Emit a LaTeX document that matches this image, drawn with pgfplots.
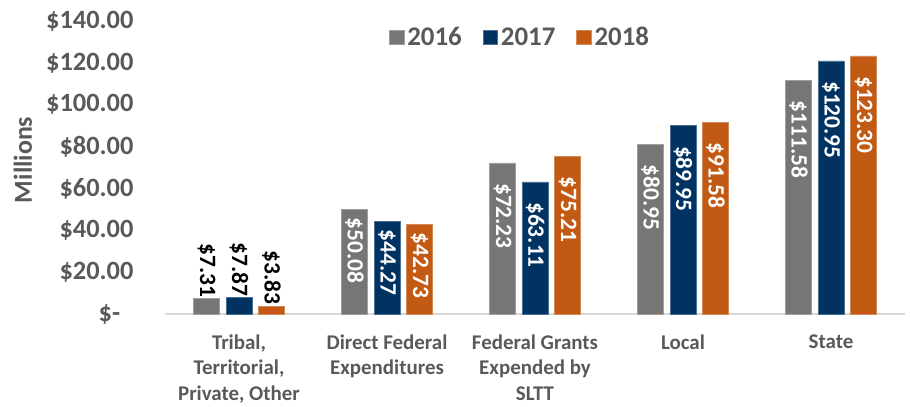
\documentclass[border=0pt]{standalone}
\usepackage{fontspec}
\setmainfont{Carlito}
\usepackage{pgfplots}
\pgfplotsset{compat=1.18}
\definecolor{cgray}{HTML}{767676}
\definecolor{cnavy}{HTML}{003262}
\definecolor{corange}{HTML}{C25A13}
\definecolor{tgray}{HTML}{595959}
\definecolor{agray}{HTML}{D9D9D9}
\begin{document}
\begin{tikzpicture}
\useasboundingbox (-165bp,-93bp) rectangle (745bp,314bp);
\begin{axis}[
  at={(0,0)}, anchor=south west,
  scale only axis, width=740bp, height=293bp,
  ybar, bar width=26bp,
  xmin=-0.5, xmax=4.5, ymin=0, ymax=140,
  clip=false,
  axis lines*=left,
  y axis line style={draw=none},
  x axis line style={draw=agray, line width=1.5bp},
  major tick length=0pt, tick style={draw=none},
  xtick={0,1,2,3,4},
  xticklabels={{Tribal,\\Territorial,\\Private, Other},{Direct Federal\\Expenditures},{Federal Grants\\Expended by\\SLTT},{Local},{State}},
  xticklabel style={font=\fontsize{21}{25.5}\selectfont\bfseries, text=tgray, align=center, anchor=north, yshift=-17bp},
  ytick={0,20,40,60,80,100,120,140},
  yticklabels={\$-\hphantom{0},\$20.00,\$40.00,\$60.00,\$80.00,\$100.00,\$120.00,\$140.00},
  yticklabel style={font=\fontsize{26.5}{30}\selectfont\bfseries, text=tgray, anchor=east, xshift=-28bp},
  ylabel={Millions},
  every axis y label/.style={at={(axis description cs:-0.192,0.526)}, rotate=90, anchor=center,
    font=\fontsize{26}{30}\selectfont\bfseries, text=tgray},
  legend columns=3,
  legend style={draw=none, fill=none, inner sep=0pt, at={(axis description cs:0.3027,0.945)}, anchor=west,
    font=\fontsize{27}{31}\selectfont\bfseries, text=tgray,
    nodes={inner xsep=3bp},
    /tikz/every odd column/.append style={column sep=0bp},
    /tikz/every even column/.append style={column sep=18bp}},
  legend image code/.code={\fill[#1] (0bp,-7.25bp) rectangle (14.5bp,7.25bp);},
  point meta=y,
  nodes near coords={\$\pgfmathprintnumber[fixed,fixed zerofill,precision=2,assume math mode=true]{\pgfplotspointmeta}},
  every node near coord/.append style={font=\fontsize{23.5}{28}\selectfont\bfseries, rotate=-90},
  inside/.style={every node near coord/.append style={text=white, anchor=west, inner xsep=20bp}},
  insidenear/.style={every node near coord/.append style={text=white, anchor=west, inner xsep=8bp}},
  outside/.style={every node near coord/.append style={text=black, anchor=east, inner xsep=1bp}},
  s16/.style={bar shift=-32.5bp, fill=cgray, draw=cgray!70!white, line width=0.6bp},
  s17/.style={bar shift=0bp, fill=cnavy, draw=cnavy!70!white, line width=0.6bp},
  s18/.style={bar shift=32.5bp, fill=corange, draw=corange!70!white, line width=0.6bp},
]
% 2016
\addplot+[s16, inside] coordinates {(2,72.23) (3,80.95) (4,111.58)};
\addlegendentry{2016}
% 2017
\addplot+[s17, inside] coordinates {(2,63.11) (3,89.95) (4,120.95)};
\addlegendentry{2017}
% 2018
\addplot+[s18, inside] coordinates {(2,75.21) (3,91.58) (4,123.30)};
\addlegendentry{2018}
% Direct Federal Expenditures
\addplot+[forget plot, s16, insidenear] coordinates {(1,50.08)};
\addplot+[forget plot, s17, insidenear] coordinates {(1,44.27)};
\addplot+[forget plot, s18, insidenear] coordinates {(1,42.73)};
% Tribal, Territorial, Private, Other
\addplot+[forget plot, s16, outside] coordinates {(0,7.31)};
\addplot+[forget plot, s17, outside] coordinates {(0,7.87)};
\addplot+[forget plot, s18, outside] coordinates {(0,3.83)};
\end{axis}
\end{tikzpicture}
\end{document}
